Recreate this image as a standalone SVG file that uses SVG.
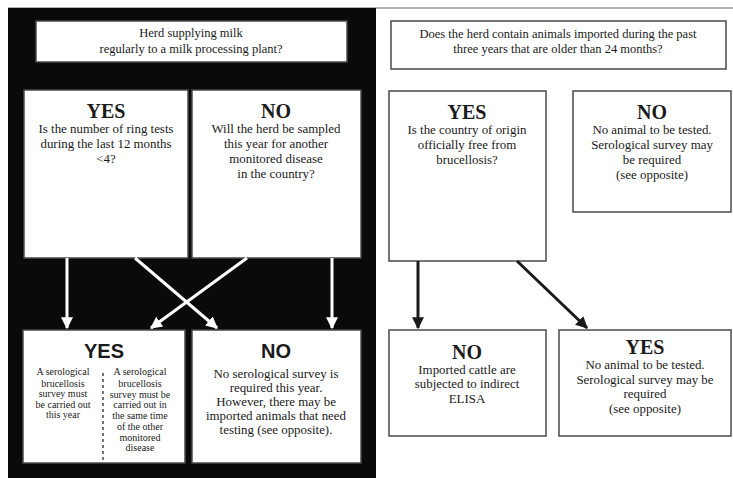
<svg xmlns="http://www.w3.org/2000/svg" width="733" height="478" viewBox="0 0 733 478">
  <defs>
    <marker id="headW" viewBox="0 0 10 10" refX="9" refY="5" markerWidth="4" markerHeight="4" orient="auto" markerUnits="strokeWidth">
      <path d="M0,0 L10,5 L0,10 z" fill="#ffffff"/>
    </marker>
    <marker id="headB" viewBox="0 0 10 10" refX="9" refY="5" markerWidth="4" markerHeight="4" orient="auto" markerUnits="strokeWidth">
      <path d="M0,0 L10,5 L0,10 z" fill="#1a1a1a"/>
    </marker>
  </defs>
  <style>
    .box { fill: #ffffff; stroke: #4a4a4a; stroke-width: 1.5; }
    .t { fill: #1a1a1a; text-anchor: middle; }
    .q { font-size: 12.5px; }
    .b { font-size: 12.9px; }
    .s { font-size: 10px; }
    .h { font-size: 20px; font-weight: bold; }
    .hs { font-family: "Liberation Sans", Arial, sans-serif; font-size: 20px; font-weight: bold; fill: #1a1a1a; text-anchor: middle; }
    .wa { stroke: #ffffff; stroke-width: 3; fill: none; marker-end: url(#headW); }
    .ba { stroke: #1a1a1a; stroke-width: 3; fill: none; marker-end: url(#headB); }
  </style>

  <!-- page background and panels -->
  <rect x="0" y="0" width="733" height="478" fill="#ffffff"/>
  <line x1="8" y1="8" x2="733" y2="8" stroke="#6a6a6a" stroke-width="1"/>
  <rect id="panel-left" x="8" y="8" width="368" height="470" fill="#0a0a0a"/>

  <g font-family="Liberation Serif, Times New Roman, Times, serif">
  <!-- left panel: milk-supplying herds -->
  <g id="q-milk">
    <rect class="box" x="36" y="21" width="311" height="41"/>
    <text class="t q" x="191" y="37">Herd supplying milk</text>
    <text class="t q" x="191" y="53">regularly to a milk processing plant?</text>
  </g>

  <g id="milk-yes">
    <rect class="box" x="24" y="90" width="164" height="168"/>
    <text class="t h" x="106" y="118">YES</text>
    <text class="t b" x="106" y="133">Is the number of ring tests</text>
    <text class="t b" x="106" y="148">during the last 12 months</text>
    <text class="t b" x="106" y="163">&lt;4?</text>
  </g>

  <g id="milk-no">
    <rect class="box" x="192" y="90" width="169" height="168"/>
    <text class="t h" x="276" y="118">NO</text>
    <text class="t b" x="276" y="133">Will the herd be sampled</text>
    <text class="t b" x="276" y="148">this year for another</text>
    <text class="t b" x="276" y="163">monitored disease</text>
    <text class="t b" x="276" y="178">in the country?</text>
  </g>

  <g id="survey-yes">
    <rect class="box" x="23" y="330" width="162" height="133"/>
    <text class="hs" x="104" y="358">YES</text>
    <line x1="103" y1="373" x2="103" y2="463" stroke="#1a1a1a" stroke-width="1.2" stroke-dasharray="3,3"/>
    <text class="t s" x="63" y="375">A serological</text>
    <text class="t s" x="63" y="387">brucellosis</text>
    <text class="t s" x="63" y="397">survey must</text>
    <text class="t s" x="63" y="408">be carried out</text>
    <text class="t s" x="63" y="418">this year</text>
    <text class="t s" x="140" y="375">A serological</text>
    <text class="t s" x="140" y="387">brucellosis</text>
    <text class="t s" x="140" y="398">survey must be</text>
    <text class="t s" x="140" y="408">carried out in</text>
    <text class="t s" x="140" y="419">the same time</text>
    <text class="t s" x="140" y="430">of the other</text>
    <text class="t s" x="140" y="441">monitored</text>
    <text class="t s" x="140" y="451">disease</text>
  </g>

  <g id="survey-no">
    <rect class="box" x="192" y="330" width="169" height="133"/>
    <text class="hs" x="276" y="358">NO</text>
    <text class="t b" x="276" y="378">No serological survey is</text>
    <text class="t b" x="276" y="392">required this year.</text>
    <text class="t b" x="276" y="406">However, there may be</text>
    <text class="t b" x="276" y="420">imported animals that need</text>
    <text class="t b" x="276" y="434">testing (see opposite).</text>
  </g>

  <!-- right panel: imported animals -->
  <g id="q-import">
    <rect class="box" x="391" y="21" width="335" height="48"/>
    <text class="t q" x="558" y="38">Does the herd contain animals imported during the past</text>
    <text class="t q" x="558" y="53">three years that are older than 24 months?</text>
  </g>

  <g id="import-yes">
    <rect class="box" x="389" y="91" width="157" height="170"/>
    <text class="t h" x="467" y="119">YES</text>
    <text class="t b" x="467" y="134">Is the country of origin</text>
    <text class="t b" x="467" y="149">officially free from</text>
    <text class="t b" x="467" y="164">brucellosis?</text>
  </g>

  <g id="import-no">
    <rect class="box" x="573" y="91" width="158" height="121"/>
    <text class="t h" x="652" y="119">NO</text>
    <text class="t b" x="652" y="134">No animal to be tested.</text>
    <text class="t b" x="652" y="149">Serological survey may</text>
    <text class="t b" x="652" y="164">be required</text>
    <text class="t b" x="652" y="179">(see opposite)</text>
  </g>

  <g id="origin-no">
    <rect class="box" x="389" y="330" width="157" height="106"/>
    <text class="t h" x="467" y="359">NO</text>
    <text class="t b" x="467" y="374">Imported cattle are</text>
    <text class="t b" x="467" y="388">subjected to indirect</text>
    <text class="t b" x="467" y="403">ELISA</text>
  </g>

  <g id="origin-yes">
    <rect class="box" x="559" y="330" width="172" height="106"/>
    <text class="t h" x="645" y="354">YES</text>
    <text class="t b" x="645" y="369">No animal to be tested.</text>
    <text class="t b" x="645" y="384">Serological survey may be</text>
    <text class="t b" x="645" y="398">required</text>
    <text class="t b" x="645" y="413">(see opposite)</text>
  </g>
  </g>

  <!-- connectors -->
  <g id="connectors">
    <line class="wa" x1="67" y1="258" x2="67" y2="328"/>
    <line class="wa" x1="135" y1="258" x2="217" y2="328"/>
    <line class="wa" x1="247" y1="258" x2="151" y2="328"/>
    <line class="wa" x1="332" y1="258" x2="332" y2="328"/>
    <line class="ba" x1="418" y1="261" x2="418" y2="328"/>
    <line class="ba" x1="517" y1="261" x2="587" y2="328"/>
  </g>
</svg>
